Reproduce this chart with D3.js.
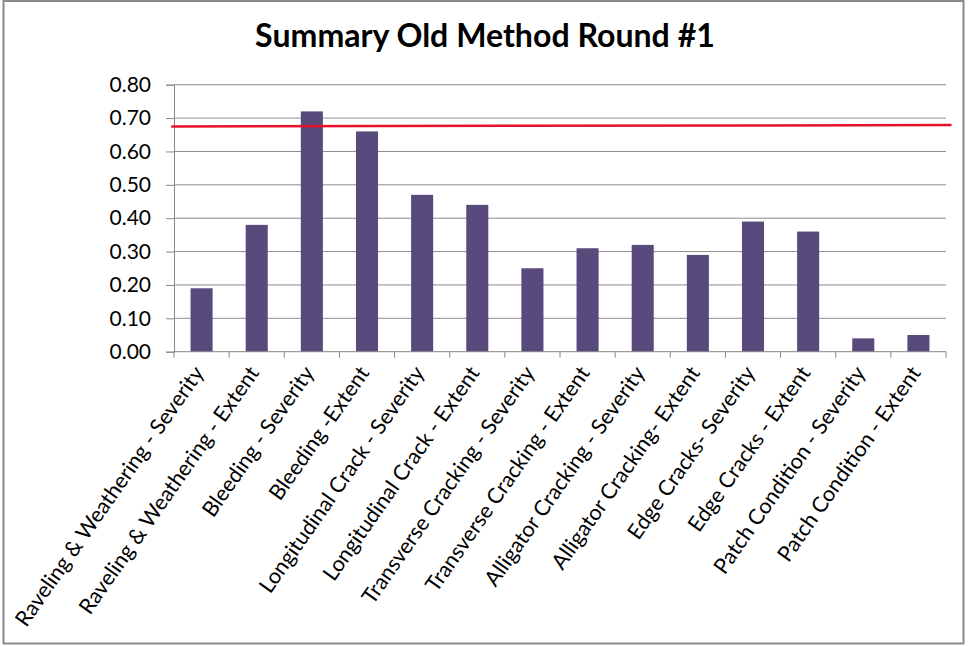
<!DOCTYPE html>
<html>
<head>
<meta charset="utf-8">
<script src="https://cdnjs.cloudflare.com/ajax/libs/d3/7.8.5/d3.min.js"></script>
<style>
  html, body { margin: 0; padding: 0; background: #fff; }
  svg { display: block; }
  text { font-family: Lato, "Open Sans", "Liberation Sans", sans-serif; fill: #000; }
</style>
</head>
<body>
<svg id="chart" width="968" height="646"></svg>
<script>
// ---- data ----
const categories = [
  "Raveling & Weathering - Severity",
  "Raveling & Weathering - Extent",
  "Bleeding - Severity",
  "Bleeding -Extent",
  "Longitudinal Crack - Severity",
  "Longitudinal Crack - Extent",
  "Transverse Cracking - Severity",
  "Transverse Cracking - Extent",
  "Alligator Cracking - Severity",
  "Alligator Cracking- Extent",
  "Edge Cracks- Severity",
  "Edge Cracks - Extent",
  "Patch Condition - Severity",
  "Patch Condition - Extent"
];
const values = [0.19, 0.38, 0.72, 0.66, 0.47, 0.44, 0.25, 0.31, 0.32, 0.29, 0.39, 0.36, 0.04, 0.05];
const yTicks = [0, 0.1, 0.2, 0.3, 0.4, 0.5, 0.6, 0.7, 0.8];
const thresholdPos = [-0.05, 14.1];     // in category units
const thresholdValues = [0.675, 0.679];
const title = "Summary Old Method Round #1";

// ---- layout ----
const W = 968, H = 646;
const plot = { left: 174, right: 946, top: 84.7, bottom: 351.7 };

const svg = d3.select("#chart");
svg.append("rect").attr("x", 0).attr("y", 0).attr("width", W).attr("height", H).attr("fill", "#fff");
svg.append("rect")
  .attr("x", 3.5).attr("y", 1).attr("width", 960).attr("height", 642.5)
  .attr("fill", "none").attr("stroke", "#8a8a8a").attr("stroke-width", 2);

const x = d3.scaleBand().domain(categories).range([plot.left, plot.right]).paddingInner(0.6).paddingOuter(0.3);
const xLin = d3.scaleLinear().domain([0, categories.length]).range([plot.left, plot.right]);
const y = d3.scaleLinear().domain([0, 0.8]).range([plot.bottom, plot.top]);

// gridlines + y ticks
const yAxis = d3.axisLeft(y).tickValues(yTicks).tickFormat(d3.format(".2f"))
  .tickSize(8).tickPadding(15);
const gy = svg.append("g").attr("transform", `translate(${plot.left},0)`).call(yAxis);
gy.select(".domain").attr("stroke", "#868686");
gy.selectAll(".tick line").attr("stroke", "#868686");
gy.selectAll(".tick text").attr("font-size", 21).attr("fill", "#000").attr("font-family", "Lato, sans-serif");

const grid = svg.append("g");
grid.selectAll("line").data(yTicks.filter(d => d > 0)).join("line")
  .attr("x1", plot.left).attr("x2", plot.right)
  .attr("y1", d => y(d)).attr("y2", d => y(d))
  .attr("stroke", "#8c8c8c").attr("stroke-width", 1);

// bars
svg.append("g").selectAll("rect").data(values).join("rect")
  .attr("x", (d, i) => x(categories[i]))
  .attr("width", x.bandwidth())
  .attr("y", d => y(d))
  .attr("height", d => y(0) - y(d))
  .attr("fill", "#594a7c");

// x axis line and ticks at category boundaries
const gx = svg.append("g");
gx.append("line").attr("x1", plot.left).attr("x2", plot.right)
  .attr("y1", plot.bottom).attr("y2", plot.bottom).attr("stroke", "#868686");
gx.selectAll("line.tk").data(d3.range(categories.length + 1)).join("line").attr("class", "tk")
  .attr("x1", d => xLin(d)).attr("x2", d => xLin(d))
  .attr("y1", plot.bottom).attr("y2", plot.bottom + 6).attr("stroke", "#868686");

// category labels
const angle = -55;
gx.selectAll("text").data(categories).join("text")
  .attr("transform", d => `translate(${x(d) + x.bandwidth() / 2 - 3},${plot.bottom + 17}) rotate(${angle})`)
  .attr("text-anchor", "end")
  .attr("dy", "0.35em")
  .attr("font-size", 21.5)
  .text(d => d);

// red threshold line
const line = d3.line().x(d => xLin(d[0])).y(d => y(d[1]));
svg.append("path")
  .datum(thresholdPos.map((p, i) => [p, thresholdValues[i]]))
  .attr("d", line).attr("fill", "none").attr("stroke", "#e8102a").attr("stroke-width", 2.5);

// title
const t = svg.append("text").attr("x", 485).attr("y", 47).attr("text-anchor", "middle")
  .attr("font-weight", "bold").attr("font-size", 30).text(title);
const tw = t.node().getComputedTextLength();
t.attr("font-size", 30 * 460 / tw);
</script>
</body>
</html>
